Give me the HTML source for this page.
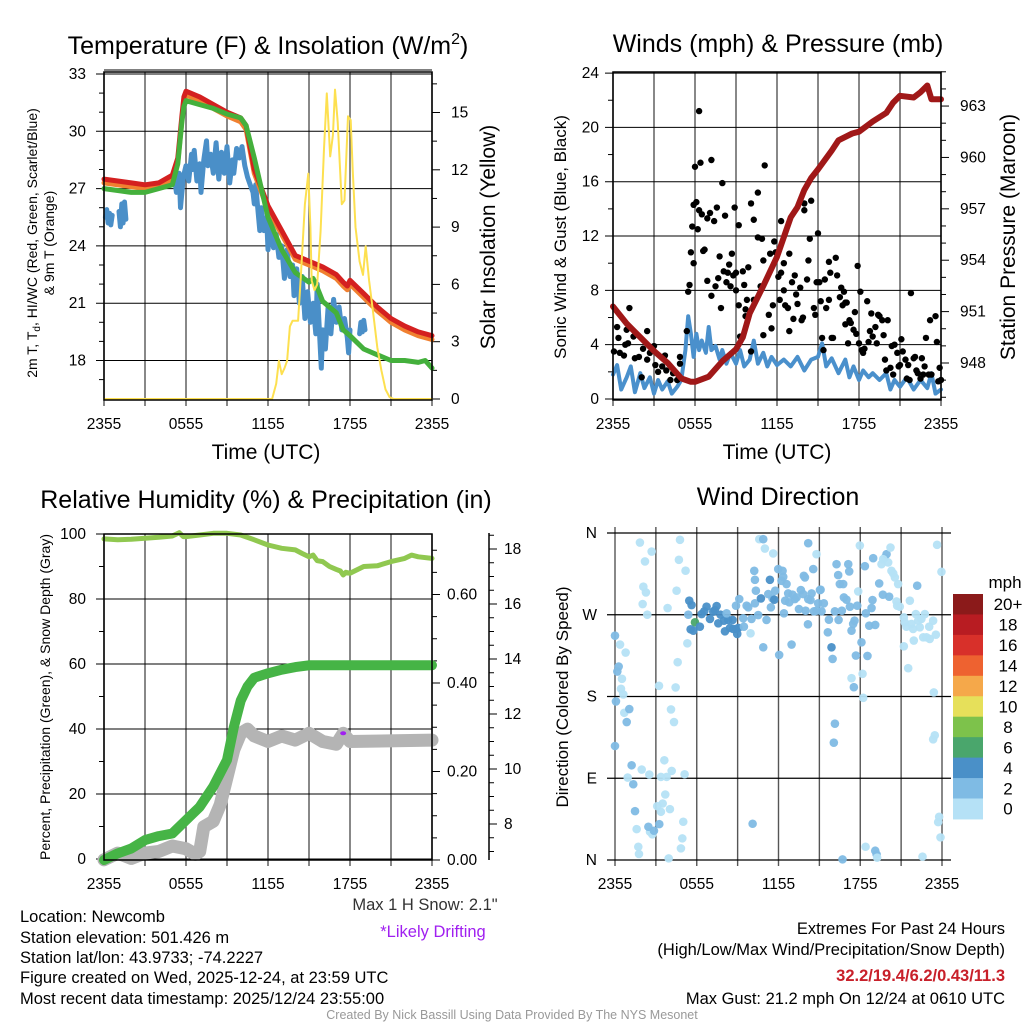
<!DOCTYPE html>
<html><head><meta charset="utf-8"><style>
html,body{margin:0;padding:0;background:#fff;}
svg{display:block;font-family:"Liberation Sans",Arial,sans-serif;}
</style></head><body>
<svg id="fig" width="1024" height="1024" viewBox="0 0 1024 1024" xmlns="http://www.w3.org/2000/svg">
<rect width="1024" height="1024" fill="#fff"/>
<g id="layer"></g>
<!-- titles -->
<text x="268" y="54" font-size="25" text-anchor="middle">Temperature (F) &amp; Insolation (W/m<tspan dy="-10" font-size="16">2</tspan><tspan dy="10">)</tspan></text>
<text x="778" y="52" font-size="25" text-anchor="middle">Winds (mph) &amp; Pressure (mb)</text>
<text x="266" y="508" font-size="25" text-anchor="middle">Relative Humidity (%) &amp; Precipitation (in)</text>
<text x="778" y="505" font-size="25" text-anchor="middle">Wind Direction</text>
<!-- axis titles -->
<text x="266" y="459" font-size="21" text-anchor="middle">Time (UTC)</text>
<text x="777" y="459" font-size="21" text-anchor="middle">Time (UTC)</text>
<text transform="translate(37,243) rotate(-90)" font-size="14" text-anchor="middle">2m T, T<tspan dy="3" font-size="10">d</tspan><tspan dy="-3">, HI/WC (Red, Green, Scarlet/Blue)</tspan></text>
<text transform="translate(54,243) rotate(-90)" font-size="14" text-anchor="middle">&amp; 9m T (Orange)</text>
<text transform="translate(495,237) rotate(-90)" font-size="21" text-anchor="middle">Solar Insolation (Yellow)</text>
<text transform="translate(566,237) rotate(-90)" font-size="17" text-anchor="middle">Sonic Wind &amp; Gust (Blue, Black)</text>
<text transform="translate(1015,237) rotate(-90)" font-size="21" text-anchor="middle">Station Pressure (Maroon)</text>
<text transform="translate(50,697) rotate(-90)" font-size="14" text-anchor="middle">Percent, Precipitation (Green), &amp; Snow Depth (Gray)</text>
<text transform="translate(568,697) rotate(-90)" font-size="17" text-anchor="middle">Direction (Colored By Speed)</text>
<!-- footer -->
<g font-size="16.5" fill="#000">
<text x="20" y="922">Location: Newcomb</text>
<text x="20" y="943">Station elevation: 501.426 m</text>
<text x="20" y="963">Station lat/lon: 43.9733; -74.2227</text>
<text x="20" y="983">Figure created on Wed, 2025-12-24, at 23:59 UTC</text>
<text x="20" y="1004">Most recent data timestamp: 2025/12/24 23:55:00</text>
<text x="425" y="910" text-anchor="middle" fill="#333">Max 1 H Snow: 2.1"</text>
<text x="433" y="937" text-anchor="middle" fill="#a020f0">*Likely Drifting</text>
<text x="1005" y="934" text-anchor="end">Extremes For Past 24 Hours</text>
<text x="1005" y="955" text-anchor="end">(High/Low/Max Wind/Precipitation/Snow Depth)</text>
<text x="1005" y="981" text-anchor="end" fill="#c8202a" font-weight="bold">32.2/19.4/6.2/0.43/11.3</text>
<text x="1005" y="1004" text-anchor="end">Max Gust: 21.2 mph On 12/24 at 0610 UTC</text>
</g>
<text x="512" y="1019" font-size="12.5" text-anchor="middle" fill="#999">Created By Nick Bassill Using Data Provided By The NYS Mesonet</text>
</svg>
<script>
// ---- Data (hours since 2355 UTC) ----
const xTickLabels = ["2355","0555","1155","1755","2355"];
const tempTicks = [18,21,24,27,30,33];
const insolTicks = [0,3,6,9,12,15];
const windTicks = [0,4,8,12,16,20,24];
const presTicks = [948,951,954,957,960,963];
const rhTicks = [0,20,40,60,80,100];
const precipTicks = [0.00,0.20,0.40,0.60];
const snowTicks = [8,10,12,14,16,18];
const dirTicks = ["N","E","S","W","N"];
const speedBins = ["0","2","4","6","8","10","12","14","16","18","20+"];

const tRedH = [0,1,2,3,4,5,5.4,5.7,5.85,6,7,8,9,10,10.4,11,12,13,14,15,16,17,17.5,17.8,18,19,20,21,22,23,24];
const tRedV = [27.5,27.4,27.3,27.2,27.3,27.7,28.6,30.8,31.8,32.1,31.8,31.4,31.0,30.7,30.3,28.0,26.1,24.8,23.5,23.2,22.9,22.5,22.1,21.9,22.2,21.5,20.8,20.2,19.8,19.5,19.3];
const tOrgV = [27.3,27.2,27.1,27.0,27.1,27.5,28.4,30.6,31.6,31.9,31.6,31.2,30.8,30.5,30.1,27.8,25.9,24.6,23.3,23.0,22.7,22.3,21.9,21.7,22.0,21.3,20.6,20.0,19.6,19.3,19.1];
const tGrnH = [0,1,2,3,4,5,5.4,5.7,5.85,6,7,8,9,10,10.4,11,12,13,14,15,15.3,15.5,16,17,17.5,18,19,20,21,22,23,23.5,24];
const tGrnV = [27.0,26.9,26.8,26.8,27.0,27.2,28.3,30.5,31.3,31.6,31.4,31.2,30.9,30.7,30.3,28.6,25.5,23.8,22.6,22.1,22.3,22.0,21.1,20.5,19.6,19.3,18.6,18.3,18.0,18.0,17.9,18.0,17.6];
const tdH = [0.1,0.2,0.3,0.4,0.5,0.6,null,1.1,1.2,1.3,1.4,1.5,1.6,null,5.15,5.3,5.5,5.6,5.8,6.0,6.2,6.4,6.5,6.6,6.8,7.0,7.1,7.3,7.5,7.6,7.8,8.0,8.2,8.4,8.6,8.8,9.0,9.2,9.4,9.5,9.7,9.9,10.1,10.3,10.5,10.7,10.9,11.0,11.1,11.3,11.4,11.5,11.7,11.9,12.0,12.2,12.4,12.6,12.8,13.0,13.2,13.4,13.6,13.8,13.9,14.1,14.3,14.5,14.7,14.9,15.1,15.3,15.5,15.6,15.7,15.9,16.0,16.2,16.4,16.6,16.8,17.0,17.2,17.4,17.6,17.8,17.9,18.0,null,18.7,18.8,18.9,19.0,19.1];
const tdV = [25.5,25.9,25.2,25.7,25.1,25.6,null,25.8,25.0,26.2,25.2,26.3,25.4,null,27.6,26.8,27.8,26.0,27.6,28.2,27.4,28.8,28.0,29.0,27.4,28.3,26.8,28.5,29.5,28.2,28.8,27.8,29.4,27.5,28.9,27.8,29.2,27.3,28.5,27.8,29.1,28.6,29.2,28.2,27.6,27.2,26.8,26.2,27.2,25.6,24.8,26.0,24.8,25.5,23.8,25.2,23.9,24.6,23.4,24.0,22.3,23.8,22.4,23.0,21.4,22.8,21.0,22.4,20.2,21.6,20.0,21.0,19.4,22.0,20.4,17.6,19.6,18.6,20.8,19.4,21.2,20.0,20.8,19.6,20.2,19.2,18.4,19.6,null,19.4,20.0,19.5,20.1,19.6];
const insH = [0,12.3,12.6,12.8,13.0,13.2,13.4,13.6,13.8,14.2,14.4,14.7,14.95,15.1,15.2,15.4,15.6,15.85,16.1,16.3,16.55,16.75,16.9,17.1,17.4,17.6,17.85,18.05,18.2,18.4,18.7,18.95,19.15,19.4,19.7,20.0,20.3,20.6,20.9,21.2,24];
const insV = [0,0,0.8,2.0,1.3,1.6,2.0,3.8,4.1,4.1,6.4,10.2,11.8,9.0,6.2,5.7,6.0,8.8,13.1,16.0,12.7,13.8,16.2,14.5,10.2,10.4,14.8,14.6,12.0,9.0,7.2,6.5,8.0,6.2,4.5,2.7,1.5,0.5,0.1,0,0];

const presH = [0,1,2,3,4,5,5.7,6,7,8,9,9.5,10,11,12,13,13.5,14,14.5,15,16,16.5,17,17.5,18,19,20,20.5,21,22,22.5,23,23.3,24];
const presV = [951.3,950.3,949.5,948.7,948.0,947.1,946.9,946.9,947.2,948.1,948.8,949.5,950.9,952.5,954.2,956.5,957.1,958.1,958.8,959.3,960.4,961.0,961.2,961.4,961.5,962.1,962.6,963.2,963.6,963.5,963.8,964.2,963.4,963.4];
const sonicH = [0,0.3,0.6,1,1.3,1.6,2,2.3,2.7,3,3.3,3.6,4,4.3,4.7,5,5.3,5.5,5.7,5.9,6.1,6.3,6.5,6.8,7,7.2,7.5,7.8,8,8.3,8.6,9,9.3,9.6,10,10.3,10.6,11,11.3,11.6,12,12.5,13,13.5,14,14.5,15,15.3,15.6,16,16.5,17,17.3,17.6,18,18.3,18.7,19,19.5,20,20.3,20.6,21,21.5,22,22.5,23,23.3,23.6,24];
const sonicV = [1.8,2.5,0.7,1.6,2.4,0.5,1.9,0.8,1.6,0.4,1.4,0.7,1.3,0.4,0.9,1.4,3.6,6.1,4.8,3.1,4.8,3.6,4.3,3.4,5.3,3.6,3.9,2.9,3.6,2.6,3.4,2.6,3.6,2.4,2.9,4.3,2.6,3.4,2.4,3.1,2.5,2.9,2.4,3.1,2.1,2.9,3.1,4.1,2.4,3.0,1.9,2.9,1.6,2.4,1.4,2.1,1.6,1.9,1.4,1.9,0.7,1.4,0.9,1.6,0.7,1.4,0.8,1.9,0.4,0.7];
const gustH = [0.07,0.3,0.4,0.5,0.8,0.9,1.0,1.2,1.1,1.5,1.6,1.9,2.1,2.2,2.5,2.5,2.7,3.0,3.1,3.3,3.6,3.8,3.9,4.2,4.4,4.7,4.9,4.9,5.4,5.5,5.6,5.7,5.8,5.9,5.9,6.0,6.1,6.2,6.3,6.3,6.4,6.5,6.6,6.7,6.9,6.9,7.1,7.2,7.2,7.4,7.5,7.6,7.7,7.8,7.9,8.0,8.1,8.2,8.3,8.4,8.5,8.6,8.7,8.8,8.9,9.0,9.0,9.2,9.2,9.3,9.5,9.6,9.7,9.7,9.8,9.9,10.1,10.1,10.3,10.3,10.6,10.6,10.8,10.9,11.0,11.0,11.1,11.4,11.5,11.6,11.7,11.8,11.9,12.1,12.2,12.3,12.3,12.5,12.5,12.6,12.8,12.9,12.9,13.1,13.2,13.3,13.4,13.5,13.7,13.8,13.9,14.0,14.0,14.2,14.3,14.4,14.5,14.7,14.8,14.9,15.0,15.1,15.2,15.3,15.4,15.5,15.6,15.8,15.8,15.9,16.0,16.1,16.3,16.4,16.6,16.7,16.8,16.9,17.0,17.0,17.1,17.2,17.3,17.4,17.6,17.7,17.8,17.9,18.0,18.1,18.2,18.3,18.4,18.6,18.7,18.8,18.9,19.0,19.2,19.3,19.4,19.5,19.7,19.8,19.9,20.0,20.1,20.3,20.4,20.5,20.6,20.8,20.9,21.0,21.1,21.2,21.4,21.5,21.6,21.7,21.8,22.0,22.1,22.2,22.3,22.5,22.6,22.7,22.8,22.9,23.1,23.2,23.3,23.6,23.7,23.8,23.9,24.0];
const gustV = [3.5,5.3,4.5,3.4,3.2,4.0,5.1,6.7,4.1,4.6,3.0,3.1,1.6,3.7,5.0,2.9,3.4,3.9,2.5,2.0,2.4,3.2,2.1,1.4,1.9,1.4,2.6,3.1,5.0,7.9,8.4,10.8,12.7,14.3,10.0,17.1,14.5,12.5,21.2,13.9,17.4,13.6,10.9,11.0,8.7,13.3,13.7,17.6,7.6,13.1,8.3,14.1,8.9,10.5,6.7,15.9,9.4,13.5,8.6,9.3,9.9,8.3,10.7,9.1,14.1,8.0,9.3,12.8,6.9,4.6,9.4,8.4,6.6,6.1,7.3,9.7,3.5,14.4,13.2,7.3,15.2,11.9,8.3,11.8,4.7,10.2,17.2,6.2,10.7,5.2,6.9,11.6,10.8,9.0,7.3,9.3,13.1,10.0,8.0,6.9,6.7,5.0,10.7,8.6,5.9,9.1,7.7,7.0,8.2,5.8,6.0,14.4,13.9,8.8,10.2,11.8,14.6,6.7,6.2,8.6,12.2,8.6,7.2,4.5,3.6,8.8,6.7,7.3,10.1,9.3,4.5,4.5,10.4,9.1,7.5,8.2,6.9,7.9,7.1,5.5,7.1,4.1,5.8,5.6,5.1,6.4,4.8,9.8,4.1,7.9,3.6,3.4,3.7,7.2,4.2,5.0,6.3,4.6,5.3,4.1,6.2,6.1,5.8,4.7,2.9,2.1,5.8,2.3,3.9,1.8,4.0,3.4,2.4,2.5,4.4,3.5,2.9,1.5,2.5,1.4,7.8,3.0,3.1,2.1,1.9,1.5,3.0,1.8,2.4,4.5,1.8,5.8,1.8,6.1,4.2,1.3,2.3,1.4];

const rhH = [0,1,2,3,4,5,5.5,5.8,6,7,8,9,10,11,12,13,14,14.5,15,15.3,15.6,16,16.5,17,17.3,17.5,17.7,18,19,20,21,22,22.5,23,24];
const rhV = [98.5,98.2,98.4,98.7,99.0,99.4,100.4,99.2,99.2,99.7,100.2,100.2,99.7,98.2,96.6,95.6,95.1,94.0,93.0,93.5,91.8,91.5,90.0,89.1,88.6,87.4,88.2,87.9,90.0,90.2,91.5,92.5,93.5,93.0,92.5];
const precipH = [0,1,2,3,4,5,6,7,8,9,9.5,10,10.5,11,12,13,14,15,24];
const precipV = [0,0.015,0.026,0.045,0.054,0.06,0.09,0.12,0.166,0.226,0.30,0.36,0.392,0.412,0.422,0.43,0.436,0.44,0.44];
const snowH = [0,1,2,3,4,5,6,6.7,7,7.3,8,8.5,9,9.5,10,10.5,11,12,13,14,15,16,17,17.5,18,24];
const snowV = [6.7,6.94,6.75,6.94,7.0,7.2,7.1,6.9,7.0,7.9,8.1,8.7,9.7,10.7,11.3,11.45,11.2,11.0,11.2,11.05,11.3,11.0,10.9,11.3,11.0,11.05];
const driftH = [17.5];
const driftV = [11.3];

const dirH = [1.83,2.69,2.2,2.08,2.27,2.03,2.37,4.77,4.69,5.18,4.52,3.86,5.31,4.6,3.23,4.45,4.11,4.33,3.62,1.96,2.52,3.37,3.79,4.16,5.11,0.93,3.69,3.5,3.1,3.37,4.03,5.01,1.59,2.57,2.74,4.94,4.84,1.71,1.76,3.94,0,0.37,0.78,0.27,0.17,0.51,0.44,0.61,0.07,0.68,1.05,0.86,0,1.22,1.34,1.47,2.45,2.86,3.25,10.1,16.7,18.39,19.1,19.2,19.24,22.57,23.72,23.79,23.89,23.35,23.47,23.4,18.22,18.17,17.36,17.53,16.14,16.06,21.52,21.2,5.45,5.62,5.38,5.87,5.75,5.55,6.23,6.36,6.55,6.72,6.97,7.21,7.33,7.46,7.58,7.75,8.0,8.07,8.31,8.44,8.63,8.68,8.92,8.97,9.05,8.19,8.88,9.12,9.41,9.46,9.66,9.78,10.02,9.95,10.27,10.34,10.51,10.71,10.88,11.12,11.25,11.44,11.56,11.69,11.76,11.98,12.05,12.22,12.35,12.4,12.49,12.59,12.71,12.79,12.96,13.03,13.2,13.33,13.5,13.64,13.81,13.86,13.99,14.16,14.18,14.35,14.43,14.55,14.6,14.79,14.91,15.04,15.16,15.33,15.62,15.7,15.89,15.97,16.14,16.26,16.38,16.41,16.5,16.65,16.75,16.8,16.99,17.12,17.19,17.24,17.36,17.48,17.58,17.68,17.78,18.09,18.34,18.41,18.53,18.66,18.83,18.9,18.95,19.1,19.39,19.66,20.12,19.8,19.93,19.56,19.68,20.05,20.22,20.29,20.42,20.54,20.66,20.78,20.71,20.9,21.2,21.27,21.39,21.64,21.76,21.88,21.93,22.08,22.18,22.25,22.37,22.49,22.62,22.74,22.86,23.06,23.1,23.35,23.55,23.64,23.96,17.97,17.85,14.18,14.79,11.61,11.0,10.59,10.88,10.22,10.27,11.37,12.3,13.94,15.09];
const dirV = [349.5,339.6,328.7,300.9,294.6,281.8,270.1,352.5,330.5,318.5,296.5,277.4,238.6,217.8,191.8,190,165.8,151.9,109.8,99.6,94.1,91.5,91.5,98.1,94.4,90.8,72.1,62.2,59.3,53.1,56,42.1,34,31.1,28.2,23.8,12.8,14.6,6.6,1.8,247,237.2,228.4,213,207.5,199.5,188.5,182.3,174.6,162.1,166.2,151.9,125.5,104.3,83.4,53.8,36.6,32.2,39.5,39.9,0.7,14.6,10.2,6.2,2.6,3.7,41.7,47.6,24.9,132.9,137.3,184.5,178.6,205,200.2,190.3,150.1,129.2,211.2,235.3,285.5,280.7,270.1,261.7,252.5,254,256.9,270.8,273.8,278.9,265.4,273.4,275.2,279.6,260.6,270.1,263.5,251.8,264.3,255.5,264.3,254.4,254.4,248.9,255.5,271.6,280,287.3,266.1,256.9,280,278.2,265.4,249.6,282.6,296.5,269.7,288,234.2,264.3,292.8,278.2,288,286.6,296.5,320.3,225.8,307.4,311.8,271.6,285.5,303.8,293.5,283.7,237.2,292.1,287.3,289.1,276.3,297.2,292.8,312.9,274.5,259.5,287.3,286.2,293.5,320.3,273.8,274.5,282.6,297.2,273.8,282.6,250.7,264.6,234.2,221.4,273.8,325.7,313.7,264.3,303.8,274.5,303.8,289.1,286.6,325.7,317.7,278.9,252.5,259.9,263.5,225.1,280,239.7,323.5,271.6,224.7,258,277.4,286.2,332.3,258.8,304.5,292.1,289.9,333,336.7,325.7,331.2,327.6,344,318.4,315.5,311.1,284.7,303.8,280,278.9,267.2,261.7,256.9,285.5,259.9,254.4,241.6,270.8,302,263.5,256.2,265.4,245.2,270.8,245.2,256.9,243.4,263.5,248.1,347,317.3,346.2,295.7,348.8,336.7,337.5,342.9,353.2,353.2,318.4,308.5,308.5,318.4,311.1,297.6];
const dirSpd = [1,1,1,1,1,1,1,1,1,1,1,1,1,1,1,1,1,1,1,1,1,1,1,1,1,1,1,1,1,1,1,1,1,1,1,1,1,1,1,1,3,1,1,3,3,1,1,1,3,1,3,3,3,3,3,3,3,3,3,3,3,1,3,3,1,1,1,1,1,1,1,1,1,1,1,3,3,3,1,1,5,5,3,7,5,5,5,5,5,5,5,5,5,5,5,5,5,5,5,5,5,5,5,5,5,3,3,3,3,3,3,3,3,1,3,3,3,5,3,3,3,3,3,5,3,3,3,3,3,3,3,3,3,3,3,3,3,3,3,3,3,3,3,3,3,3,3,3,3,3,3,3,3,3,3,3,5,3,3,3,3,3,3,3,3,3,3,3,3,3,3,3,3,3,3,3,3,3,3,3,3,3,3,3,3,3,3,1,3,1,1,1,1,1,1,1,1,1,1,1,1,1,1,1,1,1,1,1,3,1,1,1,1,1,1,1,1,1,1,1,1,1,1,3,1,1,1,1,3,3,3,5,3,3,3,3,3,3,3,3];

// ---- helpers ----
const NS = "http://www.w3.org/2000/svg";
const layer = document.getElementById('layer');
function mk(tag, attrs, parent){ const e=document.createElementNS(NS,tag); for(const k in attrs) e.setAttribute(k,attrs[k]); (parent||layer).appendChild(e); return e; }
function line(x1,y1,x2,y2,stroke,w,name){ const e=mk('line',{x1:x1,y1:y1,x2:x2,y2:y2,stroke:stroke,'stroke-width':w});


return e; }
function txt(x,y,s,size,anchor,name,fill){ const e=mk('text',{x:x,y:y,'font-size':size,'text-anchor':anchor,fill:fill||'#000'}); e.textContent=s;


return e; }
function pathFrom(H,V,xs,ys){ let d='', pen=false; for(let i=0;i<H.length;i++){ if(H[i]===null){pen=false;continue;} d+=(pen?'L':'M')+xs(H[i]).toFixed(1)+' '+ys(V[i]).toFixed(1)+' '; pen=true;} return d; }
function series(H,V,xs,ys,color,w,name){ const e=mk('path',{d:pathFrom(H,V,xs,ys),fill:'none',stroke:color,'stroke-width':w,'stroke-linejoin':'round','stroke-linecap':'round'});


return e; }

function timeAxis(x0,x1,yTop,yBot,prefix,gridExt){
  const xs=h=>x0+(x1-x0)*h/24;
  for(let h=0;h<=24;h+=3){ line(xs(h),yTop-(gridExt||0),xs(h),yBot+6,'#555',1.4,prefix+'-vgrid'); }
  xTickLabels.forEach((s,i)=>{ txt(xs(i*6),yBot+29,s,15.5,'middle',prefix+'-x-tick-label'); });
  return xs;
}

// ===== Panel 1: Temperature =====
(function(){
  const x0=104,x1=432,yT=72,yB=400;
  const xs=timeAxis(x0,x1,yT,yB,'temp');
  const yT_=T=>74+(33-T)*19.1;
  const yI=v=>399-v*19.1;
  line(x0,70,x1,70,'#000',1,'temp-top-double-line');
  tempTicks.forEach(t=>{ line(x0-8,yT_(t),x1,yT_(t),'#000',1,'temp-hgrid'); txt(x0-18,yT_(t)+5,String(t),15.5,'end','temp-y-tick-label'); });
  for(let t=17;t<=33;t++){ if(t%3) line(x0-5,yT_(t),x0,yT_(t),'#000',1,'temp-minor-tick'); }
  insolTicks.forEach(v=>{ line(x1,yI(v),x1+8,yI(v),'#000',1,'insol-tick'); txt(x1+19,yI(v)+5,String(v),15.5,'start','insol-y-tick-label'); });
  for(let v=1.5;v<17;v+=3) line(x1,yI(v),x1+5,yI(v),'#000',1,'insol-minor-tick');
  series(tdH,tdV,xs,yT_,'#4a8fc8',5,'dewpoint-line');
  series(tRedH,tOrgV,xs,yT_,'#f08030',5,'9m-temperature-line');
  series(tRedH,tRedV,xs,yT_,'#d42020',5,'2m-temperature-line');
  series(tGrnH,tGrnV,xs,yT_,'#44b03c',5,'heat-index-line');
  series(insH,insV,xs,yI,'#fde050',2,'insolation-line');
  const f=mk('rect',{x:x0,y:yT,width:x1-x0,height:yB-yT,fill:'none',stroke:'#000','stroke-width':1.5});
  
  
})();

// ===== Panel 2: Winds =====
(function(){
  const x0=613,x1=941,yT=72,yB=400;
  const xs=timeAxis(x0,x1,yT,yB,'wind');
  const yW=v=>399-v*13.58;
  const yP=v=>363-(v-948)*17.13;
  windTicks.forEach(t=>{ line(x0-8,yW(t),x1,yW(t),'#000',1,'wind-hgrid'); txt(x0-14,yW(t)+5,String(t),15.5,'end','wind-y-tick-label'); });
  for(let t=2;t<24;t+=4) line(x0-5,yW(t),x0,yW(t),'#000',1,'wind-minor-tick');
  presTicks.forEach(p=>{ line(x1,yP(p),x1+8,yP(p),'#000',1,'pressure-tick'); txt(x1+19,yP(p)+5,String(p),15.5,'start','pressure-y-tick-label'); });
  for(let p=946;p<=965;p++){ if((p-948)%3) line(x1,yP(p),x1+5,yP(p),'#000',1,'pressure-minor-tick'); }
  series(sonicH,sonicV,xs,yW,'#4a90cc',4,'sonic-wind-line');
  gustH.forEach((h,i)=>{ const c=mk('circle',{cx:xs(h),cy:yW(gustV[i]),r:3.2,fill:'#000'});
    
     });
  series(presH,presV,xs,yP,'#a01818',6,'pressure-line');
  const f=mk('rect',{x:x0,y:yT,width:x1-x0,height:yB-yT,fill:'none',stroke:'#000','stroke-width':1.5});
  
  
})();

// ===== Panel 3: RH / precip / snow =====
(function(){
  const x0=104,x1=432,yT=534,yB=860;
  const xs=timeAxis(x0,x1,yT,yB,'rh');
  const yR=v=>859-v*3.25;
  const yPr=v=>860-v*442.5;
  const yS=v=>824-(v-8)*27.5;
  rhTicks.forEach(t=>{ line(x0-8,yR(t),x1,yR(t),'#000',1,'rh-hgrid'); txt(x0-18,yR(t)+5,String(t),15.5,'end','rh-y-tick-label'); });
  for(let t=10;t<100;t+=20) line(x0-5,yR(t),x0,yR(t),'#000',1,'rh-minor-tick');
  precipTicks.forEach(p=>{ line(x1,yPr(p),x1+8,yPr(p),'#000',1,'precip-tick'); txt(x1+15,yPr(p)+5,p.toFixed(2),15.5,'start','precip-y-tick-label'); });
  for(let p=0.05;p<0.74;p+=0.05){ if(Math.abs(p*5-Math.round(p*5))>0.01) line(x1,yPr(p),x1+5,yPr(p),'#000',1,'precip-minor-tick'); }
  line(489,533,489,860,'#000',1.5,'snow-axis-line');
  snowTicks.forEach(s=>{ line(489,yS(s),497,yS(s),'#000',1,'snow-tick'); txt(504,yS(s)+5,String(s),15.5,'start','snow-y-tick-label'); });
  for(let s=7;s<19;s+=0.5){ if(s%2) line(489,yS(s),494,yS(s),'#000',1,'snow-minor-tick'); }
  series(snowH,snowV,xs,yS,'#b4b4b4',13,'snow-depth-line');
  series(precipH,precipV,xs,yPr,'#46b446',10,'precipitation-line');
  series(rhH,rhV,xs,yR,'#90c850',5,'relative-humidity-line');
  driftH.forEach((h,i)=>{ const c=mk('ellipse',{cx:xs(h),cy:yS(driftV[i]),rx:3,ry:2,fill:'#a020f0'});
    
     });
  const f=mk('rect',{x:x0,y:yT,width:x1-x0,height:yB-yT,fill:'none',stroke:'#000','stroke-width':1.5});
  
  
})();

// ===== Panel 4: Wind direction =====
(function(){
  const x0=615,x1=942,yT=533,yB=860;
  const xs=timeAxis(x0,x1,yT,yB,'dir',6);
  const yD=d=>860-d*0.9083;
  dirTicks.forEach((s,i)=>{ const y=yD(i*90); line(x0-8,y,x1+9,y,'#000',1.2,'direction-hgrid'); txt(x0-18,y+5,s,15.5,'end','direction-y-tick-label'); });
  const colors=['#b5e1f6','#7fbbe4','#4a90c8','#4aa66c','#7dc24b','#e6e05a','#f5a84a','#ee6230','#d8302a','#b81c22','#8b1a1a'];
  dirH.forEach((h,i)=>{ const bin=Math.min(10,Math.floor(dirSpd[i]/2)); const c=mk('circle',{cx:xs(h),cy:yD(dirV[i]),r:4.3,fill:colors[bin],'fill-opacity':0.95});
    
     });
  // colorbar
  const cbTop=594, cbH=20.45;
  speedBins.forEach((s,i)=>{ const k=10-i; const y=cbTop+i*cbH;
    const r=mk('rect',{x:953,y:y,width:30,height:cbH+0.5,fill:colors[k]});
    
    
    txt(1008,y+cbH/2+6,speedBins[k],17,'middle','colorbar-label'); });
  txt(1005,588,'mph',17,'middle','colorbar-title');
})();
</script>
</body></html>
